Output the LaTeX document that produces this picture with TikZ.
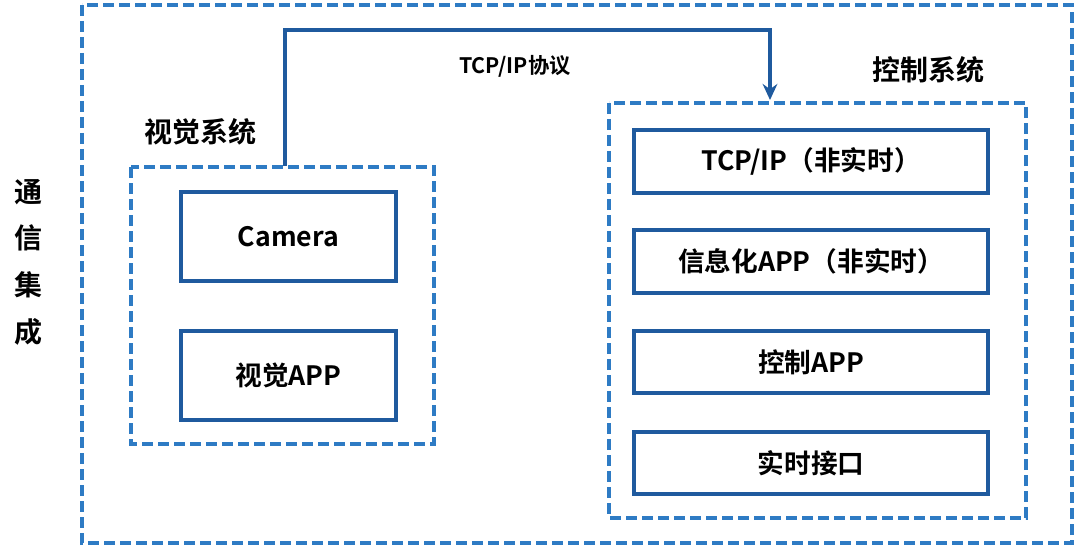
\documentclass[tikz,border=0pt]{standalone}
\usetikzlibrary{arrows.meta}
\usepackage{fontspec}
\setmainfont{Noto Sans CJK SC}[BoldFont={Noto Sans CJK SC Bold}]
\definecolor{dashb}{HTML}{2E7BC4}
\definecolor{solb}{HTML}{1F5A9E}
\tikzset{
 dbox/.style={draw=dashb,line width=3pt,dash pattern=on 8pt off 4pt},
 sbox/.style={draw=solb,line width=2.8pt},
 lab/.style={font=\bfseries\fontsize{21}{26}\selectfont},
 txt/.style={font=\bfseries\fontsize{20}{24}\selectfont}
}
\begin{document}
\begin{tikzpicture}[x=0.75pt,y=-0.75pt]
\useasboundingbox (0,0) rectangle (1080,549);
\draw[dbox] (82,5) rectangle (1072,543);
\node[lab,align=center,font=\bfseries\fontsize{21}{35}\selectfont] (side) at (28,262) {通\\信\\集\\成};
\draw[dbox] (131,167) rectangle (434,444);
\node[lab] (vl) at (200,132) {视觉系统};
\draw[sbox] (181,192) rectangle (396,281) node[midway,txt] (cam) {Camera};
\draw[sbox] (181,331) rectangle (396,420) node[midway,txt] (vapp) {视觉APP};
\draw[dbox] (609,103) rectangle (1026,518);
\node[lab] (cl) at (928,70) {控制系统};
\draw[sbox] (634,130) rectangle (988,193) node[midway,txt] (b1) {TCP/IP（非实时）};
\draw[sbox] (634,230) rectangle (988,293) node[midway,txt] (b2) {信息化APP（非实时）};
\draw[sbox] (634,331) rectangle (988,393) node[midway,txt] (b3) {控制APP};
\draw[sbox] (634,432) rectangle (988,494) node[midway,txt] (b4) {实时接口};
\coordinate (s) at (285,166);
\coordinate (e) at (770,100);
\draw[solb,line width=2.8pt,-{Stealth[length=12pt,width=11pt]}] (s) |- (770,30) -- (e);
\node[font=\bfseries\fontsize{16}{19}\selectfont] (tl) at (515,66) {TCP/IP协议};
\end{tikzpicture}
\end{document}
